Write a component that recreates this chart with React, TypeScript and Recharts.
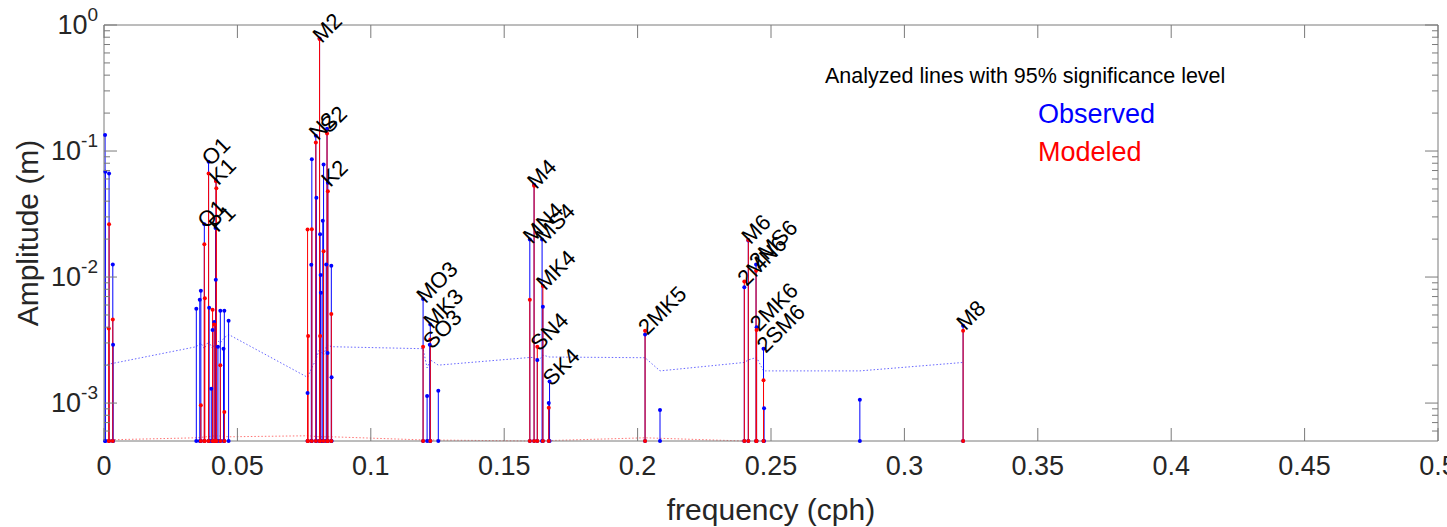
import React from "react";
import { ComposedChart, Line, Scatter, XAxis, YAxis } from "recharts";

// tidal constituents: frequency (cph), observed and modeled amplitude (m)
const names = [
  "SA", "SSA", "MSM", "MM", "MSF", "MF",
  "ALP1", "2Q1", "SIG1", "Q1", "RHO1", "O1", "TAU1", "BET1", "NO1", "PI1", "P1", "S1", "K1", "PSI1", "THE1", "J1", "SO1", "OO1", "UPS1",
  "EPS2", "MNS2", "2N2", "MU2", "N2", "NU2", "M2", "MKS2", "LDA2", "MSK2", "2SK2", "L2", "T2", "S2", "R2", "K2", "MSN2", "ETA2",
  "MO3", "M3", "SO3", "MK3", "SK3",
  "MN4", "M4", "SN4", "MS4", "MK4", "S4", "SK4",
  "2MK5", "2SK5", "2MN6", "M6", "2MS6", "2MK6", "2SM6", "MSK6", "3MK7", "M8",
];
const freqs = [
  0.0004, 0.0005, 0.0019, 0.0018, 0.0033, 0.0034,
  0.0346, 0.0359, 0.0363, 0.0376, 0.0378, 0.0392, 0.0394, 0.0402, 0.0407, 0.0413, 0.0418, 0.0419, 0.042, 0.0421, 0.0427, 0.0436, 0.0448, 0.0451, 0.0467,
  0.0763, 0.0765, 0.0777, 0.0779, 0.0794, 0.0796, 0.0808, 0.081, 0.0812, 0.0813, 0.082, 0.0823, 0.0833, 0.0836, 0.0838, 0.0839, 0.0852, 0.0853,
  0.1196, 0.1211, 0.1221, 0.1223, 0.1253,
  0.1596, 0.1612, 0.1624, 0.1642, 0.1645, 0.1667, 0.167,
  0.2028, 0.2084, 0.24, 0.2415, 0.2444, 0.2446, 0.2472, 0.2474, 0.2833, 0.322,
];
const observed = [
  0.134, 0.0685, 0.0664, null, 0.0126, 0.0029,
  0.0056, 0.0066, 0.0078, 0.0262, null, 0.0822, 0.0057, 0.0013, 0.0038, 0.0044, 0.0245, 0.0095, 0.058, null, 0.0028, 0.0054, 0.0027, 0.0054, 0.0045,
  0.0012, null, 0.0125, 0.086, 0.132, 0.0426, 0.78, 0.0219, 0.0104, 0.0075, 0.028, 0.078, 0.0126, 0.15, 0.0025, 0.056, 0.0123, 0.0016,
  0.0067, 0.00114, 0.0029, 0.0042, 0.00125,
  0.0199, 0.054, 0.0022, 0.0199, 0.0058, 0.001, 0.00148,
  0.0035, 0.00088, 0.0083, 0.0195, 0.0126, 0.004, 0.0027, 0.00091, 0.00106, 0.0041,
];
const modeled = [
  null, null, 0.0262, 0.0039, 0.0046, null,
  null, null, 0.00096, 0.0182, 0.0068, 0.0664, null, null, 0.0055, 0.0042, null, null, 0.0575, 0.0506, null, 0.002, null, 0.00085, null,
  0.0238, 0.0034, null, 0.024, 0.117, null, 0.774, 0.0034, null, null, null, 0.016, null, 0.138, null, 0.048, 0.0051, null,
  0.0028, null, null, 0.0032, null,
  0.0066, 0.053, 0.0028, null, 0.0085, 0.00092, null,
  0.00375, null, 0.0092, 0.0197, 0.0112, 0.0038, 0.00152, null, null, 0.00375,
];
const labeled = [
  "O1", "K1", "Q1", "P1", "M2", "N2", "S2", "K2", "MO3", "MK3", "SO3",
  "M4", "MN4", "MS4", "MK4", "SN4", "SK4", "2MK5", "M6", "2MN6", "2MS6", "2MK6", "2SM6", "M8",
];

// 95% significance levels
const sigObsFreqs = [0, 0.0346, 0.0363, 0.0376, 0.0392, 0.0407, 0.042, 0.0436, 0.0451, 0.0467, 0.0763, 0.0779, 0.0794, 0.0808, 0.0823, 0.0836, 0.0853, 0.1196, 0.1211, 0.1223, 0.1253, 0.1596, 0.1612, 0.1624, 0.1645, 0.167, 0.2028, 0.2084, 0.24, 0.2415, 0.2446, 0.2472, 0.2833, 0.322];
const sigObserved = [0.002, 0.0028, 0.003, 0.0027, 0.0031, 0.0027, 0.0032, 0.003, 0.0033, 0.0035, 0.0016, 0.0019, 0.0022, 0.0027, 0.0024, 0.0029, 0.0028, 0.0027, 0.0019, 0.0022, 0.002, 0.0023, 0.0023, 0.0021, 0.0024, 0.00232, 0.00229, 0.0018, 0.0021, 0.0022, 0.0023, 0.0018, 0.0018, 0.0021];
const sigModFreqs = [0, 0.0346, 0.042, 0.0467, 0.0763, 0.0808, 0.0853, 0.1196, 0.1612, 0.2028, 0.24];
const sigModeled = [0.00051, 0.00053, 0.00055, 0.00054, 0.00055, 0.00054, 0.00054, 0.00051, 0.0005, 0.00053, 0.0005];

const xTicks = [0, 0.05, 0.1, 0.15, 0.2, 0.25, 0.3, 0.35, 0.4, 0.45, 0.5];
const xTickLabels = ["0", "0.05", "0.1", "0.15", "0.2", "0.25", "0.3", "0.35", "0.4", "0.45", "0.5"];
const yMajor = [0.001, 0.01, 0.1, 1];
const yExponents = ["-3", "-2", "-1", "0"];
const yMinorSteps = [2, 3, 4, 5, 6, 7, 8, 9];

const FLOOR = 5e-4;
const AXIS = "#7a7a7a";
const TXT = "#262626";
const FONT = "'Liberation Sans', Arial, Helvetica, sans-serif";

const yTicks = [
  ...[0.0001, 0.001, 0.01, 0.1].flatMap((d) => yMinorSteps.map((m) => +(m * d).toPrecision(3))),
  ...yMajor,
].filter((v) => v > FLOOR && v <= 1);

const stems = (amps: (number | null)[]) =>
  freqs.flatMap((f, i) =>
    amps[i] == null ? [] : [{ f, a: FLOOR }, { f, a: amps[i] }, { f, a: null }]
  );
const obsStems = stems(observed);
const modStems = stems(modeled);
const sigObs = sigObsFreqs.map((f, i) => ({ f, a: sigObserved[i] }));
const sigMod = sigModFreqs.map((f, i) => ({ f, a: sigModeled[i] }));
const labelPts = labeled.map((n) => {
  const i = names.indexOf(n);
  return { f: freqs[i], a: Math.max(observed[i] ?? 0, modeled[i] ?? 0), name: n };
});

const stemDot = (color: string) => (p: any) => {
  if (p.payload.a == null || p.cy == null) return <g key={p.index} />;
  return <circle key={p.index} cx={p.cx} cy={p.cy} r={2} fill={color} />;
};

const BottomTick = (p: any) => {
  const { x, y, payload } = p;
  return (
    <g>
      <line x1={x} x2={x} y1={y} y2={y - 13} stroke={AXIS} />
      <text x={x} y={y + 34} textAnchor="middle" fontSize={27} fill={TXT} fontFamily={FONT}>
        {xTickLabels[xTicks.indexOf(payload.value)]}
      </text>
    </g>
  );
};
const TopTick = (p: any) => (
  <line x1={p.x} x2={p.x} y1={p.y} y2={p.y + 13} stroke={AXIS} />
);
const LeftTick = (p: any) => {
  const { x, y, payload } = p;
  const k = yMajor.indexOf(payload.value);
  return (
    <g>
      <line x1={x} x2={x + (k >= 0 ? 13 : 6)} y1={y} y2={y} stroke={AXIS} />
      {k >= 0 && (
        <text x={x - 6} y={y + 9} textAnchor="end" fontSize={27} fill={TXT} fontFamily={FONT}>
          10<tspan dy={-13} fontSize={19}>{yExponents[k]}</tspan>
        </text>
      )}
    </g>
  );
};
const RightTick = (p: any) => {
  const k = yMajor.indexOf(p.payload.value);
  return <line x1={p.x} x2={p.x - (k >= 0 ? 13 : 6)} y1={p.y} y2={p.y} stroke={AXIS} />;
};

const NameLabel = (p: any) => {
  const x = p.cx - 3;
  return (
    <text
      x={x}
      y={p.cy}
      transform={`rotate(-45 ${x} ${p.cy})`}
      dominantBaseline="central"
      fontSize={22}
      fill="#000"
      fontFamily={FONT}
    >
      {p.payload.name}
    </text>
  );
};

const xTitle = (p: any) => {
  const vb = p.viewBox;
  return (
    <text x={vb.x + vb.width / 2} y={vb.y + 79} textAnchor="middle" fontSize={30} fill={TXT} fontFamily={FONT}>
      frequency (cph)
    </text>
  );
};
const yTitle = (p: any) => {
  const vb = p.viewBox;
  const cx = vb.x + 38;
  const cy = vb.y + vb.height / 2;
  return (
    <text x={cx} y={cy} transform={`rotate(-90 ${cx} ${cy})`} textAnchor="middle" fontSize={30} fill={TXT} fontFamily={FONT}>
      Amplitude (m)
    </text>
  );
};

export default function App() {
  return (
    <div style={{ position: "absolute", left: 0, top: 0, width: 1447, height: 527, background: "#fff" }}>
      <ComposedChart width={1447} height={527} margin={{ top: 24, right: 8, bottom: 0, left: 0 }}>
        <XAxis
          dataKey="f"
          type="number"
          domain={[0, 0.5]}
          ticks={xTicks}
          interval={0}
          height={86}
          tickSize={0}
          tickMargin={0}
          tickLine={false}
          tick={BottomTick}
          axisLine={{ stroke: AXIS }}
          label={{ content: xTitle }}
        />
        <XAxis
          xAxisId="top"
          orientation="top"
          dataKey="f"
          type="number"
          domain={[0, 0.5]}
          ticks={xTicks}
          interval={0}
          height={1}
          tickSize={0}
          tickMargin={0}
          tickLine={false}
          tick={TopTick}
          axisLine={{ stroke: AXIS }}
          allowDataOverflow
        />
        <YAxis
          dataKey="a"
          scale="log"
          domain={[FLOOR, 1]}
          ticks={yTicks}
          interval={0}
          width={104}
          tickSize={0}
          tickMargin={0}
          tickLine={false}
          tick={LeftTick}
          axisLine={{ stroke: AXIS }}
          label={{ content: yTitle }}
        />
        <YAxis
          yAxisId="right"
          orientation="right"
          dataKey="a"
          scale="log"
          domain={[FLOOR, 1]}
          ticks={yTicks}
          interval={0}
          width={1}
          tickSize={0}
          tickMargin={0}
          tickLine={false}
          tick={RightTick}
          axisLine={{ stroke: AXIS }}
          allowDataOverflow
        />
        <Line
          data={sigObs}
          dataKey="a"
          stroke="#0000ff"
          strokeWidth={1}
          strokeDasharray="1.5 2"
          strokeOpacity={0.6}
          dot={false}
          isAnimationActive={false}
        />
        <Line
          data={sigMod}
          dataKey="a"
          stroke="#ff0000"
          strokeWidth={1}
          strokeDasharray="1.5 2"
          strokeOpacity={0.55}
          dot={false}
          isAnimationActive={false}
        />
        <Line
          data={obsStems}
          dataKey="a"
          stroke="#0000ff"
          strokeWidth={1}
          dot={stemDot("#0000ff")}
          activeDot={false}
          isAnimationActive={false}
        />
        <Line
          data={modStems}
          dataKey="a"
          stroke="#ff0000"
          strokeWidth={1}
          dot={stemDot("#ff0000")}
          activeDot={false}
          isAnimationActive={false}
        />
        <Scatter data={labelPts} dataKey="a" shape={NameLabel} isAnimationActive={false} />
      </ComposedChart>
      <div style={{ position: "absolute", left: 825, top: 66, fontSize: 21.5, lineHeight: 1, color: "#000", fontFamily: FONT, whiteSpace: "nowrap" }}>
        Analyzed lines with 95% significance level
      </div>
      <div style={{ position: "absolute", left: 1038, top: 101, fontSize: 27, lineHeight: 1, color: "#0000ff", fontFamily: FONT }}>
        Observed
      </div>
      <div style={{ position: "absolute", left: 1038, top: 139, fontSize: 27, lineHeight: 1, color: "#ff0000", fontFamily: FONT }}>
        Modeled
      </div>
    </div>
  );
}
